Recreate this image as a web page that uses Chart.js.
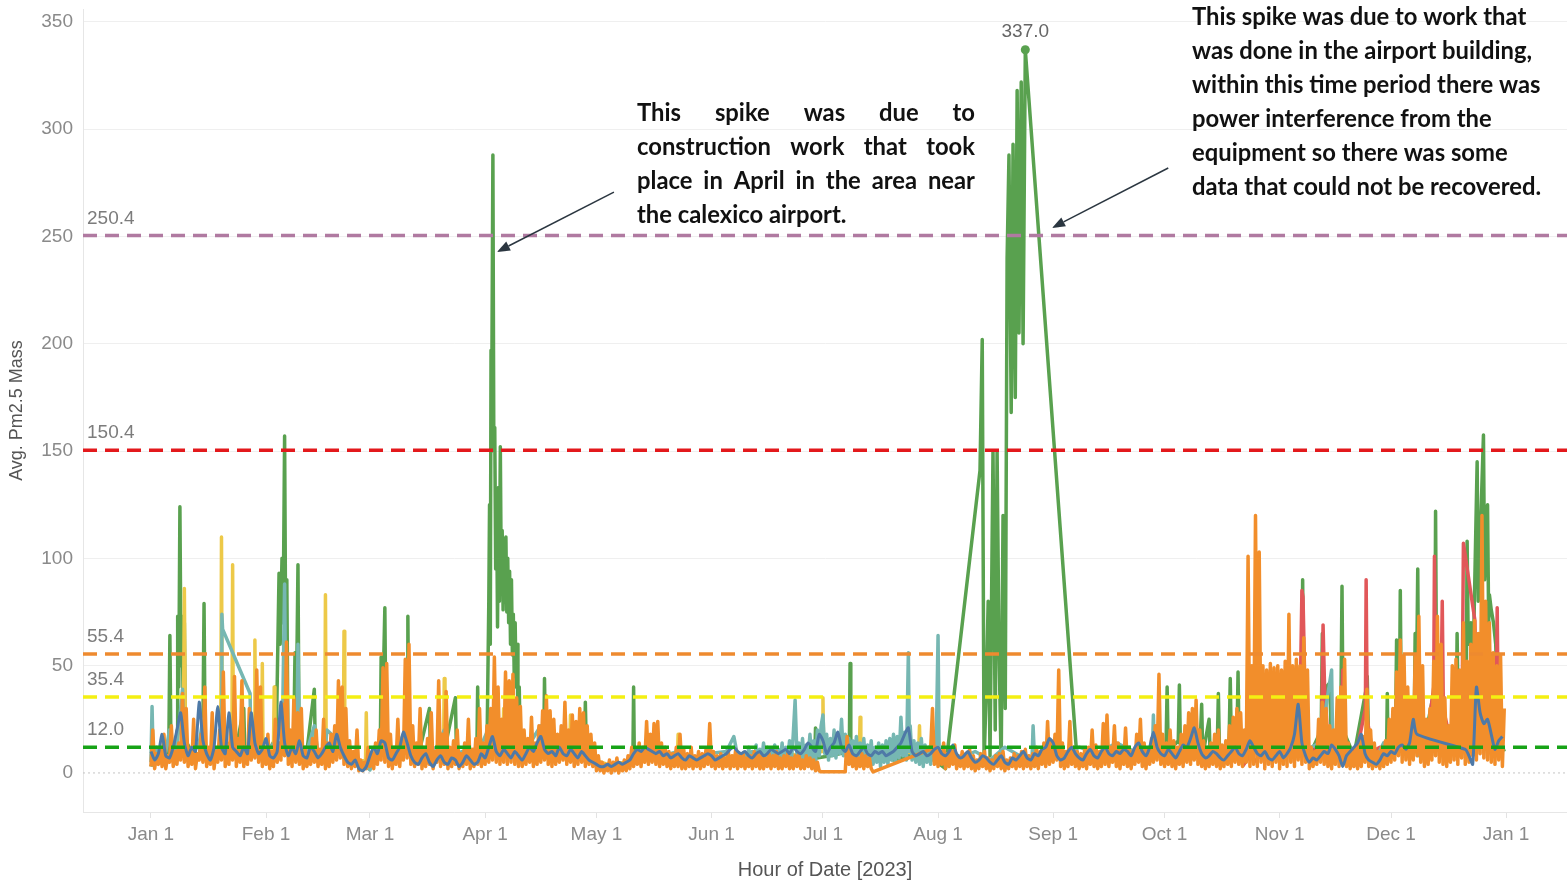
<!DOCTYPE html>
<html><head><meta charset="utf-8">
<script src="https://cdn.jsdelivr.net/npm/chart.js@4.4.1/dist/chart.umd.min.js"></script>
<style>html,body{margin:0;padding:0;background:#fff;overflow:hidden}</style>
</head><body>
<canvas id="c" width="1567" height="882"></canvas>
<script>
// ---------- DATA ----------
const monthTicks = [0,31,59,90,120,151,181,212,243,273,304,334,365];   // day of year 2023
const monthLabels = ['Jan 1','Feb 1','Mar 1','Apr 1','May 1','Jun 1','Jul 1','Aug 1','Sep 1','Oct 1','Nov 1','Dec 1','Jan 1'];
const yTicks = [0,50,100,150,200,250,300,350];
const refValues = [250.4,150.4,55.4,35.4,12.0];

// orange: one value every half day, from day 0
const orangeStep = 0.5;
const orangeValues = [
// Jan
3,20, 2,9, 4,12, 3,18, 2,8, 5,22, 3,10, 4,14, 6,37, 5,30, 3,11, 4,25, 2,9, 6,18, 5,40, 3,12, 4,28, 2,10, 5,20, 6,47, 3,14, 4,22, 6,45, 3,16, 5,43, 3,12, 4,30, 6,22, 7,48, 5,40, 3,12,
// Feb
4,18, 2,10, 3,25, 5,14, 6,32, 8,61, 4,20, 3,35, 5,28, 4,30, 2,12, 3,9, 4,16, 5,20, 3,11, 4,25, 2,14, 3,18, 5,22, 6,43, 7,40, 4,30, 3,15, 2,10, 3,20, 1,6, 1,5, 2,12,
// Mar
3,9, 2,14, 4,20, 6,49, 5,51, 3,18, 2,12, 4,25, 3,15, 6,53, 7,60, 4,22, 3,14, 4,30, 2,12, 3,16, 4,28, 2,10, 5,43, 3,18, 4,38, 2,12, 3,15, 4,20, 2,9, 3,14, 4,25, 2,11, 3,16, 4,30, 3,14,
// Apr
4,22, 5,30, 6,54, 5,40, 4,25, 5,47, 4,43, 5,46, 4,35, 3,31, 3,20, 4,16, 5,26, 3,14, 4,22, 5,29, 6,36, 4,29, 3,25, 4,18, 5,22, 6,33, 4,20, 5,27, 3,24, 4,30, 5,28, 3,22, 4,18, 3,14,
// May
1,8, 1,5, 0,4, 1,6, 0,5, 1,7, 0,4, 1,6, 1,8, 2,12, 3,10, 4,14, 3,12, 5,24, 4,18, 5,23, 4,24, 3,14, 4,12, 3,10, 2,9, 3,12, 3,18, 2,11, 2,9, 3,12, 2,8, 3,10, 2,9, 3,11, 4,23,
// Jun
3,10, 2,8, 3,9, 2,7, 3,10, 2,8, 3,11, 2,8, 3,9, 2,7, 3,8, 2,10, 3,9, 2,8, 2,7, 3,9, 2,8, 3,10, 2,7, 2,8, 3,9, 2,7, 2,8, 3,9, 2,6, 2,8, 3,7, 2,6, 1,5, 1,0.5,
// Jul (missing data shown as null)
null,null, null,null, null,null, null,null, null,null, null,null,
0.5,17, 4,9, 3,8, 2,7, 3,9, 2,8, 3,7, 2,0.5,
null,null, null,null, null,null, null,null, null,null, null,null, null,null, null,null, null,null, null,null, null,null, null,null, null,null, null,null, null,null,
11,30, 4,12,
// Aug
3,10, 4,14, 2,9, 3,11, 4,13, 2,8, 3,10, 2,9, 3,11, 2,8, 1,6, 2,9, 3,10, 2,7, 1,6, 2,8, 3,9, 2,10, 1,6, 2,7, 3,9, 2,8, 3,10, 2,11, 3,8, 2,9, 3,12, 2,10, 4,14, 3,24, 4,15,
// Sep
5,18, 6,48, 3,14, 2,10, 3,24, 4,12, 3,10, 2,9, 3,11, 2,12, 4,20, 3,13, 2,10, 3,23, 4,27, 3,12, 5,22, 3,14, 2,11, 4,21, 3,12, 2,10, 4,18, 5,25, 3,14, 2,11, 4,16, 5,22, 6,46, 4,18,
// Oct
3,14, 4,20, 3,15, 2,12, 4,18, 3,22, 5,28, 4,30, 6,34, 4,20, 3,15, 2,12, 3,14, 4,18, 3,20, 2,13, 3,15, 4,22, 3,26, 5,30, 4,28, 3,20, 5,101, 3,50, 4,120, 3,103, 5,50, 2,48, 4,51, 3,49, 5,50,
// Nov
2,48, 4,52, 3,74, 5,50, 3,53, 6,50, 4,63, 5,48, 2,12, 3,10, 4,25, 5,33, 4,30, 3,22, 2,20, 4,35, 3,40, 5,53, 3,14, 2,10, 3,12, 2,15, 3,17, 5,39, 3,20, 2,14, 3,10, 2,12, 3,15, 4,25,
// Dec
5,30, 6,47, 8,62, 5,55, 6,40, 4,35, 6,55, 8,73, 5,50, 3,25, 4,30, 6,52, 8,73, 5,60, 4,35, 3,22, 5,50, 6,53, 4,48, 7,70, 4,52, 5,60, 8,71, 6,65, 9,120, 7,80, 6,70, 5,56, 4,50, 6,55, 3,30
];

// blue: daily average, from day 0
const blueStep = 1;
const blueValues = [
// Jan
10,6,9,18,8,7,12,20,28,14,8,12,10,33,15,9,6,12,31,12,9,28,12,10,8,12,9,28,14,9,11,
// Feb
16,8,7,10,33,14,8,12,9,15,8,7,12,10,7,9,12,14,10,18,12,8,5,4,6,2,1,3,
// Mar
8,12,9,15,14,7,6,9,12,19,14,8,5,4,7,9,5,3,6,8,5,4,7,6,3,5,8,6,4,5,9,
// Apr
7,12,17,10,8,11,9,7,10,8,6,9,12,10,14,17,11,9,10,8,12,9,8,11,9,7,10,8,6,5,
// May
4,3,3,4,3,4,5,4,5,6,9,11,10,12,11,10,9,10,8,9,7,8,9,7,6,8,7,6,7,8,9,
// Jun
8,6,7,8,9,11,12,10,9,10,8,7,9,10,8,9,11,10,9,10,11,9,12,10,9,11,14,12,10,18,
// Jul
15,9,12,14,19,12,10,13,9,8,10,12,9,8,10,9,10,8,9,10,12,14,18,21,10,8,9,10,8,9,11,
// Aug
12,9,8,10,13,9,7,8,10,7,5,6,8,7,5,4,6,8,5,4,7,6,8,10,7,6,9,8,11,12,16,
// Sep
14,8,6,7,10,12,9,7,6,9,11,8,7,10,12,9,8,10,9,11,10,8,12,14,10,8,12,19,12,9,
// Oct
8,11,9,7,10,13,12,16,21,14,9,7,8,10,9,7,6,8,10,12,9,8,11,15,12,9,8,10,7,6,8,
// Nov
10,7,9,12,18,32,14,8,5,7,6,8,10,9,13,11,8,3,8,10,12,14,18,9,6,5,4,6,9,8,
// Dec
10,9,12,13,11,14,25,18, null,null,null,null,null,null,null,null,null,null,null,null, 11,8,4,40,28,23,25,18,11,15,17
];

// sparse series as [day, value]
const greenPoints = [
[0,3],[1,8],[2,5],[3,10],[4.8,8],[5.1,64],[5.4,10],[6.5,12],[7.1,20],[7.2,73],[7.5,40],[7.8,124],[8.1,50],[8.4,73],[8.7,30],[9.0,70],[9.3,15],
[11,10],[13,8],[14.0,20],[14.3,79],[14.6,12],[17,8],[20,10],[23,12],[25,30],[25.3,8],[28,10],[31,8],
[33.2,15],[33.5,40],[33.8,20],[34.5,93],[34.8,60],[35.3,100],[35.6,70],[36.0,157],[36.3,60],[36.6,90],[36.9,15],[38.5,20],[38.8,56],[39.1,20],[39.6,97],[39.9,12],
[42,10],[44,39],[44.3,8],[47,8],[50,10],[53,6],[56,3],[59,4],[61.8,15],[62,54],[62.3,20],[63,77],[63.3,15],[66,8],[69.0,20],[69.2,73],[69.5,10],
[72,8],[75,30],[75.3,8],[79,10],[82,35],[82.3,8],[85,8],[87.8,12],[88,40],[88.3,8],
[90.5,10],[91.0,80],[91.2,125],[91.4,60],[91.6,197],[91.8,178],[92.1,288],[92.35,150],[92.6,161],[92.85,95],[93.1,130],[93.35,68],[93.6,133],[93.85,80],
[94.1,152],[94.35,90],[94.6,113],[94.85,76],[95.1,109],[95.35,80],[95.6,110],[95.85,75],[96.1,100],[96.35,70],[96.6,94],[96.85,60],[97.1,90],[97.35,55],
[97.6,74],[97.85,45],[98.1,70],[98.35,40],[98.6,60],[98.85,25],[99.2,40],[99.5,8],
[102,10],[105.8,12],[106,44],[106.3,10],[110,8],[114,10],[116.8,10],[117,33],[117.3,8],[121,3],[125,4],[129.8,5],[130,40],[130.2,6],
[134,8],[138,6],[142,8],[146,7],[150,6],[155,7],[160,6],[165,8],[170,7],[175,9],[178.8,8],[179,21],[179.3,7],[183,8],[188.1,10],[188.3,51],[188.5,9],
[192,7],[196,8],[200,6],[204,8],[208,7],[211,6],[214,2],
[223.3,141],[223.9,202],[224.4,5],[225,40],[225.5,80],[226,8],[226.8,150],[227.4,20],[227.9,150],[228.4,60],[229,4],[229.5,120],[230.1,30],
[230.6,240],[231.1,288],[231.7,168],[232.2,293],[232.8,175],[233.3,318],[233.8,205],[234.4,322],[234.9,200],[235.5,337],
[249.5,5],[252,8],[255,6],[258,10],[261,7],[264,9],[267,8],[270,12],[273.4,12],[273.7,40],[274,10],[276.7,15],[277,41],[277.3,10],[279,12],[281,20],
[282.5,10],[283,32],[283.3,8],[285,25],[285.3,8],[287.2,12],[287.5,37],[287.8,10],[289,12],[290.4,15],[290.7,44],[291,12],[292.5,15],[292.8,47],[293.1,10],
[296,12],[300,10],[304,14],[307,12],[309.9,40],[310.2,90],[310.5,30],[312,8],[315.2,20],[315.5,65],[315.8,25],[316.5,40],[317.5,42],[318,10],
[320.5,30],[320.8,87],[321.1,20],[324,8],[327.4,40],[327.6,45],[328,10],[330,6],[332.8,10],[333,37],[333.2,8],[335.3,30],[335.5,62],[335.8,20],
[336.3,40],[336.5,85],[336.8,20],[338,15],[340.3,30],[340.5,65],[340.8,30],[341.2,95],[341.5,20],[343,15],[345.8,40],[346,122],[346.3,30],[348,20],
[350,15],[351.6,30],[351.8,65],[352.1,25],[354.3,50],[354.5,108],[354.8,60],[355.5,70],[356,40],[357.2,145],[357.5,80],[358.9,157.5],[359.2,90],
[360,125],[360.3,70],[360.5,83],[361,76],[361.6,70],[362.2,60],[362.8,30],[363.5,15],[364.5,10]
];

const tealPoints = [
[0,5],[0.3,31],[0.6,8],[1.5,12],[2.5,6],[4,10],[5,20],[5.5,6],[7,12],[8.5,39],[9,10],[11,8],[13,14],[14,25],[14.5,8],[16,10],[18,12],[19.0,8],[19.1,74],[19.3,67],
[26.7,37],[27,8],[28,14],[30,10],[32,12],[34,15],[35.5,30],[36,88],[36.3,30],[37,10],[39.3,15],[39.6,60],[40,12],[42,10],[44,22],[45,9],[47.0,12],[47.4,20],
[59,1.4],[60,6],[62,12],[63,30],[64,8],[66,10],[69,22],[70,8],[74,10],[77,12],[79,20],[80,8],[84,10],[88,9],[92,25],[93,12],[97,10],[100,8],[105,22],[106,10],
[110,12],[113,15],[116,9],[120,4],[125,3],[130,6],[134,12],[138,8],[142,10],[146,7],[150,9],[155,10],[157,17],[158,8],
[160,9],[160.5,4],[161,12],[161.5,5],[162,10],[162.5,4],[163,13],[163.5,5],[164,11],[164.5,6],[165,14],[165.5,5],[166,12],[166.5,4],[167,10],[167.5,5],
[168,13],[168.5,6],[169,11],[169.5,5],[170,14],[170.5,4],[171,12],[171.5,6],[172,15],[172.5,5],[173,18],[173.5,34],[174,8],[174.5,14],[175,6],[175.5,16],
[176,5],[176.5,13],[177,7],[177.5,18],[178,6],[178.5,15],[179,5],[179.5,20],[180,8],[180.5,22],[181,27],[181.5,9],[182,18],[182.5,6],[183,16],[183.5,8],
[184,20],[184.5,7],[185,17],[185.5,9],[186,25],[186.5,8],[187,18],[187.5,6],[188,16],[188.5,5],[189,15],[189.5,7],[190,17],[190.5,5],[191,14],[191.5,6],
[192,16],[192.5,4],[193,13],[193.5,6],[194,15],[194.5,4],[195,12],[195.5,5],[196,14],[196.5,3],[197,13],[197.5,5],[198,15],[198.5,4],[199,16],[199.5,6],
[200,18],[200.5,5],[201,17],[201.5,7],[202,26],[202.5,8],[203,19],[203.5,6],[204,56],[204.3,10],[204.5,22],[205,6],[205.5,15],[206,5],[206.5,14],[207,4],
[207.5,16],[208,3],[208.5,13],[209,5],[209.5,12],[210,4],[210.5,15],[211,6],[211.5,12],[212,64],[212.3,8],
[214,9],[218,7],[222,10],[226,6],[230,12],[234,8],[237.3,6],[237.6,22],[238,6],[242,10],[246,8],[250,12],[255,9],[260,14],[265,10],[269.7,8],[270,27],[270.3,9],
[275,12],[280,10],[282,20],[283,8],[288,12],[292,10],[296,14],[300,9],[305,12],[310,10],[315,14],[318,48],[318.3,12],[322,8],[326,10],[330,7],[332,14],[334,8],
[338,12],[340.8,10],[341,28],[341.2,8],[344,12],[347,20],[348,10],[352,12],[356,10],[360,14],[364,8]
];

const yellowPoints = [
[0,4],[2,8],[4,6],[6,10],[8.7,10],[9,86],[9.3,12],[12,8],[15,10],[18.8,12],[19,110],[19.2,14],[21.8,12],[22,97],[22.2,10],[25,8],[27.8,10],[28,62],[28.2,12],
[29.8,12],[30,51],[30.2,10],[33,12],[33.2,40],[33.4,8],[37,10],[40,12],[43,9],[46.8,10],[47,83],[47.2,12],[49,8],[51.8,10],[52,66],[52.2,9],[55,5],
[57.8,6],[58,28],[58.2,5],[62,10],[66,8],[70,10],[74,8],[78.8,10],[79,44],[79.2,9],[84,8],[88,10],[92,12],[94.8,10],[95,30],[95.2,9],[100,10],[105,8],
[109,10],[112.8,10],[113,27],[113.2,8],[118,7],[123,4],[128,5],[133,8],[138,7],[141.8,8],[142,18],[142.2,7],[147,6],[152,7],[158,8],[164,7],[170,8],
[176,9],[180.8,10],[181,35],[181.2,10],[185,12],[190.8,10],[191,26],[191.2,9],[196,10],[201,9],[206.8,10],[207,22],[207.2,8],[212,8]
];

const redPoints = [
[294,3],[296,8],[296.6,12],[297,5],[300,10],[303,8],[305,15],[307,10],[309.5,30],[310,85],[310.3,82],[310.7,48],[311,10],[313,8],[315.3,20],[315.7,69],
[316.1,40],[316.5,30],[317,12],[319,10],[320.6,20],[321,48],[321.3,15],[323,8],[325,12],[327.1,30],[327.3,90],[327.6,25],[329,10],[331,12],[334,8],
[337,14],[340,12],[342,15],[344,20],[345.5,40],[345.7,101],[346,45],[347.5,40],[347.8,80],[348.1,30],[350,15],[352,12],[353.2,40],[353.5,107],
[356.6,71],[357,30],[359,40],[361,35],[362.4,40],[362.6,77],[362.9,20],[364,10]
];

// ---------- BUILD ----------
const X_MIN = -18.3, X_MAX = 381.4;
const stepSeries = (vals, step) => vals.map((v, i) => ({x: i * step, y: v}));
const pairSeries = pts => pts.map(p => ({x: p[0], y: p[1]}));
const greenPeak = Math.max(...greenPoints.map(p => p[1]));
const refColors = ['#b07aa1', '#e3191c', '#ee8a2f', '#f4ef12', '#17a317'];
const FONT = "'Liberation Sans', Arial, sans-serif";

const refSets = refValues.map((v, i) => ({
  data: [{x: X_MIN, y: v}, {x: X_MAX, y: v}],
  borderColor: refColors[i], borderWidth: 3.5, borderDash: [14, 8],
  pointRadius: 0, order: 0
}));

const lineBase = {pointRadius: 0, borderWidth: 3.5, tension: 0, fill: false, borderJoinStyle: 'round'};

const datasets = [
  ...refSets,
  Object.assign({}, lineBase, {label: 'blue', data: stepSeries(blueValues, blueStep), borderColor: '#4e79a7', borderWidth: 3, tension: 0.2, spanGaps: true, order: 1}),
  Object.assign({}, lineBase, {label: 'orange', data: stepSeries(orangeValues, orangeStep), borderColor: '#f28e2b', spanGaps: true, order: 2}),
  Object.assign({}, lineBase, {label: 'teal', data: pairSeries(tealPoints), borderColor: '#76b7b2', order: 3}),
  Object.assign({}, lineBase, {label: 'red', data: pairSeries(redPoints), borderColor: '#e15759', order: 4}),
  Object.assign({}, lineBase, {label: 'yellow', data: pairSeries(yellowPoints), borderColor: '#edc948', order: 5}),
  Object.assign({}, lineBase, {label: 'green', data: pairSeries(greenPoints), borderColor: '#59a14f', order: 6,
     pointRadius: c => (c.raw && c.raw.y === greenPeak) ? 4.5 : 0, pointBackgroundColor: '#59a14f', pointBorderWidth: 0}),
  {data: [{x: X_MIN, y: 0}, {x: X_MAX, y: 0}], borderColor: '#c4c4c4', borderWidth: 1, borderDash: [2, 3], pointRadius: 0, order: 7}
];

const notes = {
  left: {x: 637, y: 113, width: 338, justify: true, lines: ['This spike was due to', 'construction work that took', 'place in April in the area near', 'the calexico airport.']},
  right: {x: 1192, y: 17, width: 360, justify: false, lines: ['This spike was due to work that', 'was done in the airport building,', 'within this time period there was', 'power interference from the', 'equipment so there was some', 'data that could not be recovered.']}
};
const arrows = [
  {from: [124.7, 270.7], to: [93.2, 242.8]},
  {from: [274.0, 281.9], to: [242.7, 254.0]}
];

const overlay = {
  id: 'overlay',
  afterDraw(chart) {
    const ctx = chart.ctx, xs = chart.scales.x, ys = chart.scales.y;
    ctx.save();
    // reference labels
    ctx.font = '19px ' + FONT; ctx.fillStyle = '#7c7c7c'; ctx.textAlign = 'left'; ctx.textBaseline = 'middle';
    refValues.forEach(v => ctx.fillText(v.toFixed(1), chart.chartArea.left + 4, ys.getPixelForValue(v) - 17));
    // peak label
    const pk = greenPoints.find(p => p[1] === greenPeak);
    ctx.textAlign = 'center'; ctx.fillStyle = '#666';
    ctx.fillText(greenPeak.toFixed(1), xs.getPixelForValue(pk[0]), ys.getPixelForValue(pk[1]) - 18);
    // notes
    ctx.font = 'bold 23.8px Lato, sans-serif'; ctx.fillStyle = '#111'; ctx.textAlign = 'left';
    Object.values(notes).forEach(n => {
      n.lines.forEach((line, i) => {
        const y = n.y + i * 34;
        if (n.justify && i < n.lines.length - 1) {
          const words = line.split(' ');
          const tot = words.reduce((s, w) => s + ctx.measureText(w).width, 0);
          const gap = (n.width - tot) / (words.length - 1);
          let cx = n.x;
          words.forEach(w => { ctx.fillText(w, cx, y); cx += ctx.measureText(w).width + gap; });
        } else ctx.fillText(line, n.x, y);
      });
    });
    // arrows
    ctx.strokeStyle = '#2b3640'; ctx.fillStyle = '#2b3640'; ctx.lineWidth = 1.5;
    arrows.forEach(a => {
      const x1 = xs.getPixelForValue(a.from[0]), y1 = ys.getPixelForValue(a.from[1]);
      const x2 = xs.getPixelForValue(a.to[0]), y2 = ys.getPixelForValue(a.to[1]);
      const ang = Math.atan2(y2 - y1, x2 - x1), L = 13, W = 5;
      const bx = x2 - L * Math.cos(ang), by = y2 - L * Math.sin(ang);
      ctx.beginPath(); ctx.moveTo(x1, y1); ctx.lineTo(bx, by); ctx.stroke();
      ctx.beginPath(); ctx.moveTo(x2, y2);
      ctx.lineTo(bx + W * Math.sin(ang), by - W * Math.cos(ang));
      ctx.lineTo(bx - W * Math.sin(ang), by + W * Math.cos(ang));
      ctx.closePath(); ctx.fill();
    });
    ctx.restore();
  }
};

new Chart(document.getElementById('c'), {
  type: 'line',
  data: {datasets},
  options: {
    responsive: false, animation: false, devicePixelRatio: 1,
    layout: {padding: {top: 9, right: 0, left: 0, bottom: 0}},
    plugins: {legend: {display: false}, tooltip: {enabled: false}},
    scales: {
      x: {
        type: 'linear', min: X_MIN, max: X_MAX,
        afterBuildTicks: s => { s.ticks = monthTicks.map(v => ({value: v})); },
        afterFit: s => { s.height = 70; s.paddingLeft = 0; s.paddingRight = 0; },
        ticks: {autoSkip: false, maxRotation: 0, padding: 5, color: '#8a8a8a', font: {family: FONT, size: 19},
                callback: (v, i) => monthLabels[i]},
        grid: {drawOnChartArea: false, color: '#e2e2e2', tickLength: 6},
        border: {color: '#e6e6e6'},
        title: {display: true, text: 'Hour of Date [2023]', color: '#555', font: {family: FONT, size: 20}, padding: {top: 0, bottom: 0}}
      },
      y: {
        min: -18.2, max: 356,
        afterBuildTicks: s => { s.ticks = yTicks.map(v => ({value: v})); },
        afterFit: s => { s.width = 83; s.paddingTop = 0; s.paddingBottom = 0; },
        ticks: {padding: 10, color: '#8a8a8a', font: {family: FONT, size: 19}},
        grid: {drawTicks: false, color: c => (c.tick && c.tick.value === 0) ? 'rgba(0,0,0,0)' : '#efefef'},
        border: {color: '#e6e6e6'},
        title: {display: true, text: 'Avg. Pm2.5 Mass', color: '#555', font: {family: FONT, size: 18}, padding: {top: 6, bottom: 0}}
      }
    }
  },
  plugins: [overlay]
});
</script>
</body></html>
